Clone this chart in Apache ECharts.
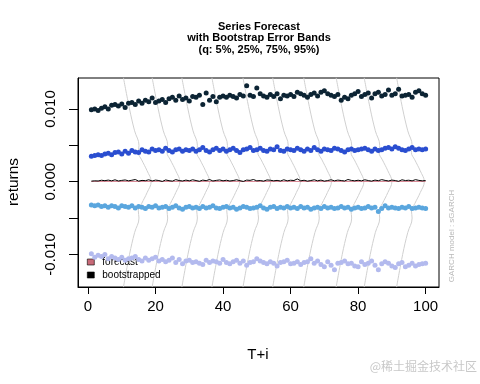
<!DOCTYPE html>
<html><head><meta charset="utf-8">
<script src="https://cdn.jsdelivr.net/npm/echarts@6/dist/echarts.min.js"></script>
<style>html,body{margin:0;padding:0;background:#fff}#c{width:480px;height:384px}</style>
</head><body><div id="c"></div>
<script>
var q95 = [.0099,.0100,.0098,.0101,.0103,.0100,.0105,.0106,.0104,.0107,
.0102,.0108,.0109,.0106,.0111,.0108,.0112,.0110,.0115,.0109,
.0111,.0113,.0109,.0114,.0116,.0112,.0118,.0113,.0115,.0111,
.0117,.0116,.0119,.0106,.0122,.0112,.0117,.0110,.0116,.0118,
.0116,.0119,.0117,.0115,.0120,.0118,.0132,.0119,.0117,.0129,
.0121,.0118,.0116,.0120,.0117,.0121,.0114,.0119,.0118,.0120,
.0117,.0123,.0121,.0119,.0116,.0120,.0122,.0118,.0123,.0125,
.0121,.0119,.0117,.0120,.0112,.0116,.0114,.0119,.0121,.0124,
.0117,.0120,.0122,.0115,.0121,.0123,.0118,.0120,.0126,.0119,
.0121,.0127,.0118,.0119,.0120,.0116,.0123,.0125,.0121,.0119];
var q75 = [.0035,.0036,.0037,.0036,.0038,.0039,.0037,.0040,.0041,.0038,
.0042,.0039,.0043,.0041,.0040,.0044,.0042,.0041,.0045,.0043,
.0044,.0042,.0046,.0043,.0041,.0044,.0045,.0042,.0044,.0043,
.0045,.0042,.0044,.0047,.0043,.0041,.0044,.0046,.0043,.0045,
.0042,.0044,.0046,.0043,.0040,.0044,.0045,.0047,.0043,.0044,
.0046,.0043,.0042,.0045,.0044,.0048,.0043,.0042,.0045,.0044,
.0043,.0046,.0044,.0042,.0045,.0043,.0047,.0044,.0042,.0045,
.0044,.0043,.0046,.0045,.0043,.0041,.0044,.0045,.0043,.0044,
.0045,.0046,.0044,.0042,.0045,.0043,.0044,.0046,.0047,.0045,
.0048,.0046,.0044,.0043,.0045,.0047,.0044,.0045,.0044,.0045];
var meanSeries = [.00008,.00012,.00010,.00020,.00014,.00022,.00012,.00026,.00010,.00018,
.00024,.00012,.00020,.00030,.00008,.00018,.00014,.00026,.00010,.00022,
.00016,.00004,.00024,.00014,.00008,.00028,.00016,.00010,.00022,.00012,
.00026,.00016,.00006,.00022,.00014,.00030,.00010,.00018,.00024,.00012,
.00020,.00010,.00016,.00026,.00014,.00004,.00022,.00018,.00030,.00012,
.00016,.00008,.00024,.00020,.00012,.00018,.00010,.00026,.00012,.00020,
.00016,.00038,.00012,.00020,.00008,.00016,.00026,.00012,.00022,.00008,
.00016,.00026,.00012,.00022,.00016,.00010,.00030,.00018,.00012,.00020,
.00012,.00026,.00016,.00008,.00022,.00014,.00028,.00018,.00010,.00022,
.00016,.00006,.00026,.00016,.00020,.00012,.00028,.00018,.00012,.00016];
var forecastSeries = [];
for (var k = 0; k < 100; k++) forecastSeries.push(0.00003);
var q25 = [-.0032,-.0033,-.0032,-.0034,-.0033,-.0035,-.0033,-.0034,-.0036,-.0033,
-.0034,-.0035,-.0033,-.0036,-.0034,-.0035,-.0037,-.0034,-.0035,-.0033,
-.0036,-.0035,-.0034,-.0037,-.0035,-.0033,-.0036,-.0038,-.0035,-.0034,
-.0036,-.0035,-.0037,-.0034,-.0036,-.0035,-.0033,-.0036,-.0037,-.0035,
-.0034,-.0036,-.0035,-.0038,-.0036,-.0034,-.0035,-.0037,-.0036,-.0035,
-.0033,-.0036,-.0038,-.0035,-.0034,-.0037,-.0035,-.0036,-.0034,-.0036,
-.0035,-.0037,-.0034,-.0036,-.0035,-.0038,-.0036,-.0035,-.0037,-.0034,
-.0036,-.0035,-.0037,-.0036,-.0034,-.0036,-.0035,-.0038,-.0036,-.0035,
-.0037,-.0036,-.0034,-.0036,-.0035,-.0041,-.0037,-.0033,-.0036,-.0035,
-.0036,-.0037,-.0035,-.0036,-.0034,-.0037,-.0036,-.0035,-.0036,-.0037];
var q5 = [-.0099,-.0104,-.0101,-.0103,-.0100,-.0106,-.0103,-.0105,-.0107,-.0104,
-.0108,-.0106,-.0105,-.0103,-.0107,-.0109,-.0105,-.0108,-.0106,-.0104,
-.0109,-.0107,-.0110,-.0108,-.0105,-.0111,-.0107,-.0113,-.0109,-.0108,
-.0111,-.0110,-.0112,-.0114,-.0108,-.0111,-.0109,-.0110,-.0112,-.0107,
-.0111,-.0113,-.0110,-.0108,-.0112,-.0109,-.0115,-.0111,-.0110,-.0106,
-.0109,-.0111,-.0113,-.0110,-.0112,-.0116,-.0111,-.0110,-.0108,-.0113,
-.0112,-.0110,-.0114,-.0111,-.0110,-.0106,-.0112,-.0109,-.0114,-.0117,
-.0110,-.0115,-.0121,-.0112,-.0111,-.0109,-.0113,-.0112,-.0116,-.0117,
-.0110,-.0114,-.0112,-.0109,-.0115,-.0121,-.0113,-.0110,-.0112,-.0116,
-.0118,-.0113,-.0111,-.0117,-.0115,-.0112,-.0116,-.0114,-.0113,-.0112];
var xTicks = [0, 20, 40, 60, 80, 100];
var yTicks = [-0.01, -0.005, 0, 0.005, 0.01];
var yLabels = [-0.01, 0, 0.01];
var curveBase = [10.5, 19, 27.8, 36.7, 45.9, 54.7, 63.9, 73.5, 81.8, 91.4];
var curveProfileY = [0.0143, 0.010, 0.007, 0.005, 0.004, 0.003, 0.0015, 0.0, -0.0015, -0.003, -0.004, -0.005, -0.007, -0.010, -0.0145];
var curveProfileW = [0, 1.8, 3.3, 4.6, 4.4, 5.4, 7.0, 8.2, 7.0, 5.4, 4.4, 4.6, 3.3, 1.8, 0];

function pts(arr) { return arr.map(function (v, i) { return [i + 1, v]; }); }

var chart = echarts.init(document.getElementById('c'), null, { renderer: 'canvas' });
var series = [];
curveBase.forEach(function (b, ci) {
  series.push({
    type: 'line', name: 'curve' + ci, silent: true, symbol: 'none', smooth: 0.4,
    lineStyle: { color: '#d0d0d0', width: 1 }, z: 1,
    data: curveProfileY.map(function (y, j) { return [b + curveProfileW[j], y]; })
  });
});
series.push({ type: 'line', name: 'forecast', data: pts(forecastSeries), symbol: 'none', lineStyle: { color: '#d98a96', width: 1.2 }, itemStyle: { color: '#c86a78' }, z: 3 });
series.push({ type: 'line', name: 'bootstrapped', data: pts(meanSeries), symbol: 'none', lineStyle: { color: '#000', width: 1 }, itemStyle: { color: '#000' }, z: 4 });
var dotCols = ['#0c2434', '#2a4ed0', '#5aa6de', '#b3baee'];
[q95, q75, q25, q5].forEach(function (arr, si) {
  series.push({ type: 'scatter', name: 'q' + si, data: pts(arr), symbolSize: 5, itemStyle: { color: dotCols[si], opacity: 1 }, z: 5 });
});

chart.setOption({
  animation: false,
  grid: { left: 78, right: 41, top: 78, bottom: 97, show: true, borderColor: '#000', borderWidth: 1, backgroundColor: 'transparent' },
  xAxis: {
    type: 'value', min: -2.96, max: 103.96,
    axisLine: { show: true, onZero: false, lineStyle: { color: '#000' } },
    axisTick: { show: true, customValues: xTicks, length: 7, lineStyle: { color: '#000' } },
    axisLabel: { customValues: xTicks, fontSize: 15, color: '#000', margin: 12, fontFamily: 'Liberation Sans' },
    splitLine: { show: false }
  },
  yAxis: {
    type: 'value', min: -0.01448, max: 0.01426,
    axisLine: { show: true, onZero: false, lineStyle: { color: '#000' } },
    axisTick: { show: true, customValues: yTicks, length: 9, lineStyle: { color: '#000' } },
    axisLabel: { customValues: yLabels, rotate: 90, fontSize: 15, color: '#000', margin: 20, fontFamily: 'Liberation Sans',
      formatter: function (v) { return v.toFixed(3); } },
    splitLine: { show: false }
  },
  legend: {
    orient: 'vertical', left: 87, top: 257, padding: 0, itemWidth: 7, itemHeight: 6, itemGap: 3,
    textStyle: { fontSize: 10, color: '#000', fontFamily: 'Liberation Sans', padding: [0, 0, 0, 3] },
    data: [
      { name: 'forecast', icon: 'rect', itemStyle: { color: '#c86a78', borderColor: '#000', borderWidth: 0.6 } },
      { name: 'bootstrapped', icon: 'rect', itemStyle: { color: '#000', borderColor: '#000', borderWidth: 0.6 } }
    ],
    selectedMode: false
  },
  graphic: [
    { type: 'text', style: { text: 'Series Forecast\nwith Bootstrap Error Bands\n(q: 5%, 25%, 75%, 95%)', x: 259, y: 21, textAlign: 'center', font: 'bold 11px "Liberation Sans", Arial', lineHeight: 11.5, fill: '#000' } },
    { type: 'text', style: { text: 'T+i', x: 258, y: 347, textAlign: 'center', font: '15px "Liberation Sans", Arial', fill: '#000' } },
    { type: 'text', rotation: Math.PI / 2, x: 6, y: 182, style: { text: 'returns', textAlign: 'center', textVerticalAlign: 'top', font: '15.5px "Liberation Sans", Arial', fill: '#000' } },
    { type: 'text', rotation: Math.PI / 2, x: 448, y: 236, style: { text: 'GARCH model : sGARCH', textAlign: 'center', textVerticalAlign: 'top', font: '8px "Liberation Sans", Arial', fill: '#b8b8b8' } },
    { type: 'text', style: { text: '@稀土掘金技术社区', x: 477, y: 360, textAlign: 'right', font: '12px "Noto Sans CJK SC"', fill: '#c8c8c8' } }
  ],
  series: series
});
</script></body></html>
